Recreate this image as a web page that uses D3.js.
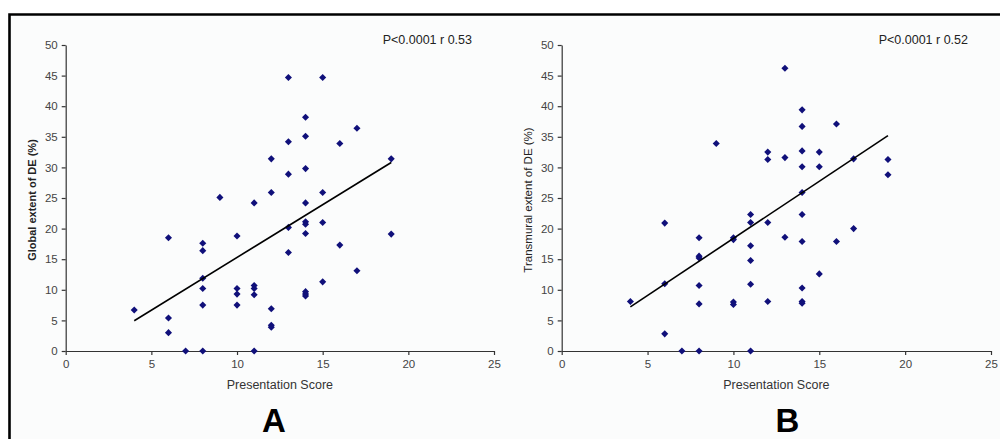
<!DOCTYPE html>
<html>
<head>
<meta charset="utf-8">
<script src="https://cdn.jsdelivr.net/npm/d3@7"></script>
<style>
  body { margin: 0; background: #fff; }
  text { font-family: Arial, "Liberation Sans", sans-serif; }
</style>
</head>
<body>
<svg width="1000" height="439"></svg>
<script>
// panel A : presentation score vs global extent of DE
var scoreA = [4, 6, 6, 6, 7, 8, 8, 8, 8, 8, 8, 9, 10, 10, 10, 10, 11, 11, 11, 11, 11,
  12, 12, 12, 12, 12, 13, 13, 13, 13, 13, 14, 14, 14, 14, 14, 14, 14, 14, 14, 14,
  15, 15, 15, 15, 16, 16, 17, 17, 19, 19];
var globalDE = [6.7, 18.5, 5.4, 3.0, 0, 17.6, 16.4, 11.9, 10.2, 7.5, 0, 25.1, 18.8, 10.2, 9.3, 7.5, 24.2, 10.7, 10.2, 9.2, 0,
  31.4, 25.9, 6.9, 4.2, 3.9, 44.7, 34.2, 28.9, 20.2, 16.1, 38.2, 35.1, 29.8, 24.2, 21.1, 20.7, 19.2, 9.7, 9.3, 9.0,
  44.7, 25.9, 21.0, 11.3, 33.9, 17.3, 36.4, 13.1, 31.4, 19.1];
var trendA = [[4, 4.95], [19, 30.8]];

// panel B : presentation score vs transmural extent of DE
var scoreB = [4, 6, 6, 6, 7, 8, 8, 8, 8, 8, 8, 9, 10, 10, 10, 10, 11, 11, 11, 11, 11, 11,
  12, 12, 12, 12, 13, 13, 13, 14, 14, 14, 14, 14, 14, 14, 14, 14, 14,
  15, 15, 15, 16, 16, 17, 17, 19, 19];
var transDE = [8.1, 20.9, 11.0, 2.8, 0, 18.5, 15.5, 15.2, 10.7, 7.7, 0, 33.9, 18.5, 18.2, 8.0, 7.6, 22.3, 21.0, 17.2, 14.8, 10.9, 0,
  32.5, 31.3, 21.0, 8.1, 46.2, 31.6, 18.6, 39.4, 36.7, 32.7, 30.1, 25.9, 22.3, 17.9, 10.3, 8.1, 7.8,
  32.5, 30.1, 12.6, 37.1, 17.9, 31.4, 20.0, 31.3, 28.8];
var trendB = [[4, 7.2], [19, 35.2]];

var xTicks = [0, 5, 10, 15, 20, 25];
var yTicks = [0, 5, 10, 15, 20, 25, 30, 35, 40, 45, 50];

var panels = [
  { x: scoreA, y: globalDE, trend: trendA, left: 65.7, right: 494, yLabel: "Global extent of DE (%)", bold: true,
    labelX: 32, stat: "P<0.0001 r 0.53", statX: 472, letter: "A", letterX: 274 },
  { x: scoreB, y: transDE, trend: trendB, left: 561.7, right: 991, yLabel: "Transmural extent of DE (%)", bold: false,
    labelX: 528, stat: "P<0.0001 r 0.52", statX: 968, letter: "B", letterX: 787.5 }
];

var svg = d3.select("svg");
var axisColor = "#333";

// frame: light panel with thick black top / left border
svg.append("rect").attr("x", 9).attr("y", 14).attr("width", 991).attr("height", 425).attr("fill", "#fbfcfc");
svg.append("path").attr("d", "M9.5,439V14.5H1000").attr("fill", "none").attr("stroke", "#000").attr("stroke-width", 2.6);

var diamond = d3.symbol().type(d3.symbolDiamond2).size(32);

panels.forEach(function (p) {
  var xScale = d3.scaleLinear().domain([0, 25]).range([p.left, p.right]);
  var yScale = d3.scaleLinear().domain([0, 50]).range([351, 45]);

  var yAxisG = svg.append("g").attr("transform", `translate(${p.left},0)`)
    .call(d3.axisLeft(yScale).tickValues(yTicks).tickSize(4).tickPadding(4).tickSizeOuter(0));
  var xAxisG = svg.append("g").attr("transform", "translate(0,351)")
    .call(d3.axisBottom(xScale).tickValues(xTicks).tickSize(4).tickPadding(5).tickSizeOuter(0));
  [yAxisG, xAxisG].forEach(function (a) {
    a.selectAll("path, line").attr("stroke", axisColor).attr("stroke-width", 1.2);
    a.selectAll("text").attr("fill", "#444").attr("font-size", "11.5px")
      .attr("font-family", "Arial, 'Liberation Sans', sans-serif");
  });

  svg.append("text").attr("transform", `translate(${p.labelX},200) rotate(-90)`)
    .attr("text-anchor", "middle").attr("dy", "0.35em")
    .attr("font-size", p.bold ? "11px" : "11.5px").attr("font-weight", p.bold ? "bold" : "normal")
    .attr("fill", "#222").text(p.yLabel);

  svg.append("text").attr("x", (p.left + p.right) / 2).attr("y", 389)
    .attr("text-anchor", "middle").attr("font-size", "12.5px").attr("fill", "#333").text("Presentation Score");

  svg.append("text").attr("x", p.statX).attr("y", 44).attr("text-anchor", "end")
    .attr("font-size", "12.5px").attr("fill", "#222").text(p.stat);

  svg.append("text").attr("x", p.letterX).attr("y", 432).attr("text-anchor", "middle")
    .attr("font-size", "33px").attr("font-weight", "bold").attr("fill", "#000").text(p.letter);

  var pts = p.x.map(function (v, i) { return [v, p.y[i]]; });
  svg.append("g").selectAll("path").data(pts).enter().append("path")
    .attr("d", diamond)
    .attr("transform", d => `translate(${xScale(d[0])},${yScale(d[1])})`)
    .attr("fill", "#10107a");

  svg.append("path").datum(p.trend)
    .attr("d", d3.line().x(d => xScale(d[0])).y(d => yScale(d[1])))
    .attr("fill", "none").attr("stroke", "#000").attr("stroke-width", 1.6);
});
</script>
</body>
</html>
